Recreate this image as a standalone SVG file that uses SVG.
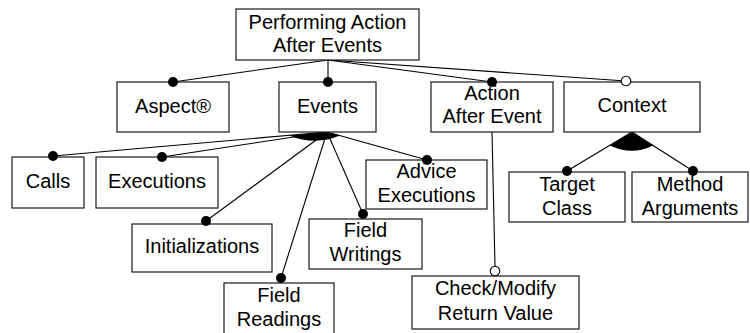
<svg xmlns="http://www.w3.org/2000/svg" width="750" height="333" viewBox="0 0 750 333">
  <style>
    .box { fill: #ffffff; stroke: #1a1a1a; stroke-width: 1.2; }
    .lbl { font-family: "Liberation Sans", Arial, sans-serif; font-size: 20px; fill: #000; text-anchor: middle; }
    .edge { stroke: #000; stroke-width: 1.1; fill: none; }
    .mand { fill: #000; }
    .opt { fill: #fff; stroke: #000; stroke-width: 1.1; }
    .grp { fill: #000; }
  </style>
  <rect width="750" height="333" fill="#ffffff"/>

  <!-- connectors -->
  <g id="connectors">
    <line class="edge" x1="328" y1="60" x2="173" y2="82"/>
    <line class="edge" x1="328" y1="60" x2="328" y2="82"/>
    <line class="edge" x1="328" y1="60" x2="492" y2="82"/>
    <line class="edge" x1="328" y1="60" x2="626" y2="81"/>
    <!-- Events alternatives -->
    <line class="edge" x1="327" y1="132" x2="53" y2="156"/>
    <line class="edge" x1="327" y1="132" x2="162" y2="157"/>
    <line class="edge" x1="327" y1="132" x2="206" y2="221"/>
    <line class="edge" x1="327" y1="132" x2="281" y2="278"/>
    <line class="edge" x1="327" y1="132" x2="363" y2="214"/>
    <line class="edge" x1="327" y1="132" x2="427" y2="160"/>
    <path class="grp" d="M327 132 L289 135.5 Q315 146 340 135.6 Z"/>
    <!-- Context alternatives -->
    <line class="edge" x1="632" y1="132" x2="567" y2="171"/>
    <line class="edge" x1="632" y1="132" x2="693" y2="171"/>
    <path class="grp" d="M632 132 L610 145.5 Q632 156 653 145.5 Z"/>
    <!-- Action After Event child -->
    <line class="edge" x1="492" y1="132" x2="495" y2="266"/>
  </g>

  <g id="root">
    <rect class="box" x="236" y="9" width="183" height="51"/>
    <text class="lbl" x="327.5" y="29">Performing Action</text>
    <text class="lbl" x="327.5" y="52">After Events</text>
  </g>
  <g id="aspect">
    <rect class="box" x="117" y="82" width="112" height="50"/>
    <text class="lbl" x="173" y="113">Aspect®</text>
  </g>
  <g id="events">
    <rect class="box" x="279" y="82" width="97" height="50"/>
    <text class="lbl" x="327.5" y="113">Events</text>
  </g>
  <g id="action">
    <rect class="box" x="431" y="82" width="122" height="50"/>
    <text class="lbl" x="492" y="100">Action</text>
    <text class="lbl" x="492" y="123">After Event</text>
  </g>
  <g id="context">
    <rect class="box" x="564" y="82" width="136" height="50"/>
    <text class="lbl" x="632" y="112">Context</text>
  </g>
  <g id="calls">
    <rect class="box" x="12" y="157" width="72" height="51"/>
    <text class="lbl" x="48" y="188">Calls</text>
  </g>
  <g id="executions">
    <rect class="box" x="96" y="157" width="122" height="51"/>
    <text class="lbl" x="157" y="188">Executions</text>
  </g>
  <g id="advice">
    <rect class="box" x="366" y="160" width="121" height="49"/>
    <text class="lbl" x="426.5" y="178">Advice</text>
    <text class="lbl" x="426.5" y="202">Executions</text>
  </g>
  <g id="initializations">
    <rect class="box" x="132" y="224" width="140" height="48"/>
    <text class="lbl" x="202" y="253">Initializations</text>
  </g>
  <g id="field-writings">
    <rect class="box" x="309" y="219" width="113" height="50"/>
    <text class="lbl" x="365.5" y="237">Field</text>
    <text class="lbl" x="365.5" y="261">Writings</text>
  </g>
  <g id="field-readings">
    <rect class="box" x="224" y="283" width="110" height="55"/>
    <text class="lbl" x="279" y="302">Field</text>
    <text class="lbl" x="279" y="326">Readings</text>
  </g>
  <g id="target-class">
    <rect class="box" x="509" y="172" width="116" height="50"/>
    <text class="lbl" x="567" y="191">Target</text>
    <text class="lbl" x="567" y="215">Class</text>
  </g>
  <g id="method-arguments">
    <rect class="box" x="632" y="172" width="116" height="50"/>
    <text class="lbl" x="690" y="191">Method</text>
    <text class="lbl" x="690" y="215">Arguments</text>
  </g>
  <g id="check-modify">
    <rect class="box" x="412" y="276" width="167" height="53"/>
    <text class="lbl" x="495.5" y="295">Check/Modify</text>
    <text class="lbl" x="495.5" y="320">Return Value</text>
  </g>

  <!-- feature markers -->
  <g id="markers">
    <circle class="mand" cx="173" cy="82" r="5"/>
    <circle class="mand" cx="328" cy="82" r="5"/>
    <circle class="mand" cx="492" cy="82" r="5"/>
    <circle class="opt" cx="626" cy="81" r="4.8"/>
    <circle class="mand" cx="53" cy="156" r="5"/>
    <circle class="mand" cx="162" cy="157" r="5"/>
    <circle class="mand" cx="206" cy="221" r="5"/>
    <circle class="mand" cx="281" cy="278" r="5"/>
    <circle class="mand" cx="363" cy="214" r="5"/>
    <circle class="mand" cx="427" cy="160" r="5"/>
    <circle class="mand" cx="567" cy="171" r="5"/>
    <circle class="mand" cx="693" cy="171" r="5"/>
    <circle class="opt" cx="495" cy="271" r="4.8"/>
  </g>
</svg>
